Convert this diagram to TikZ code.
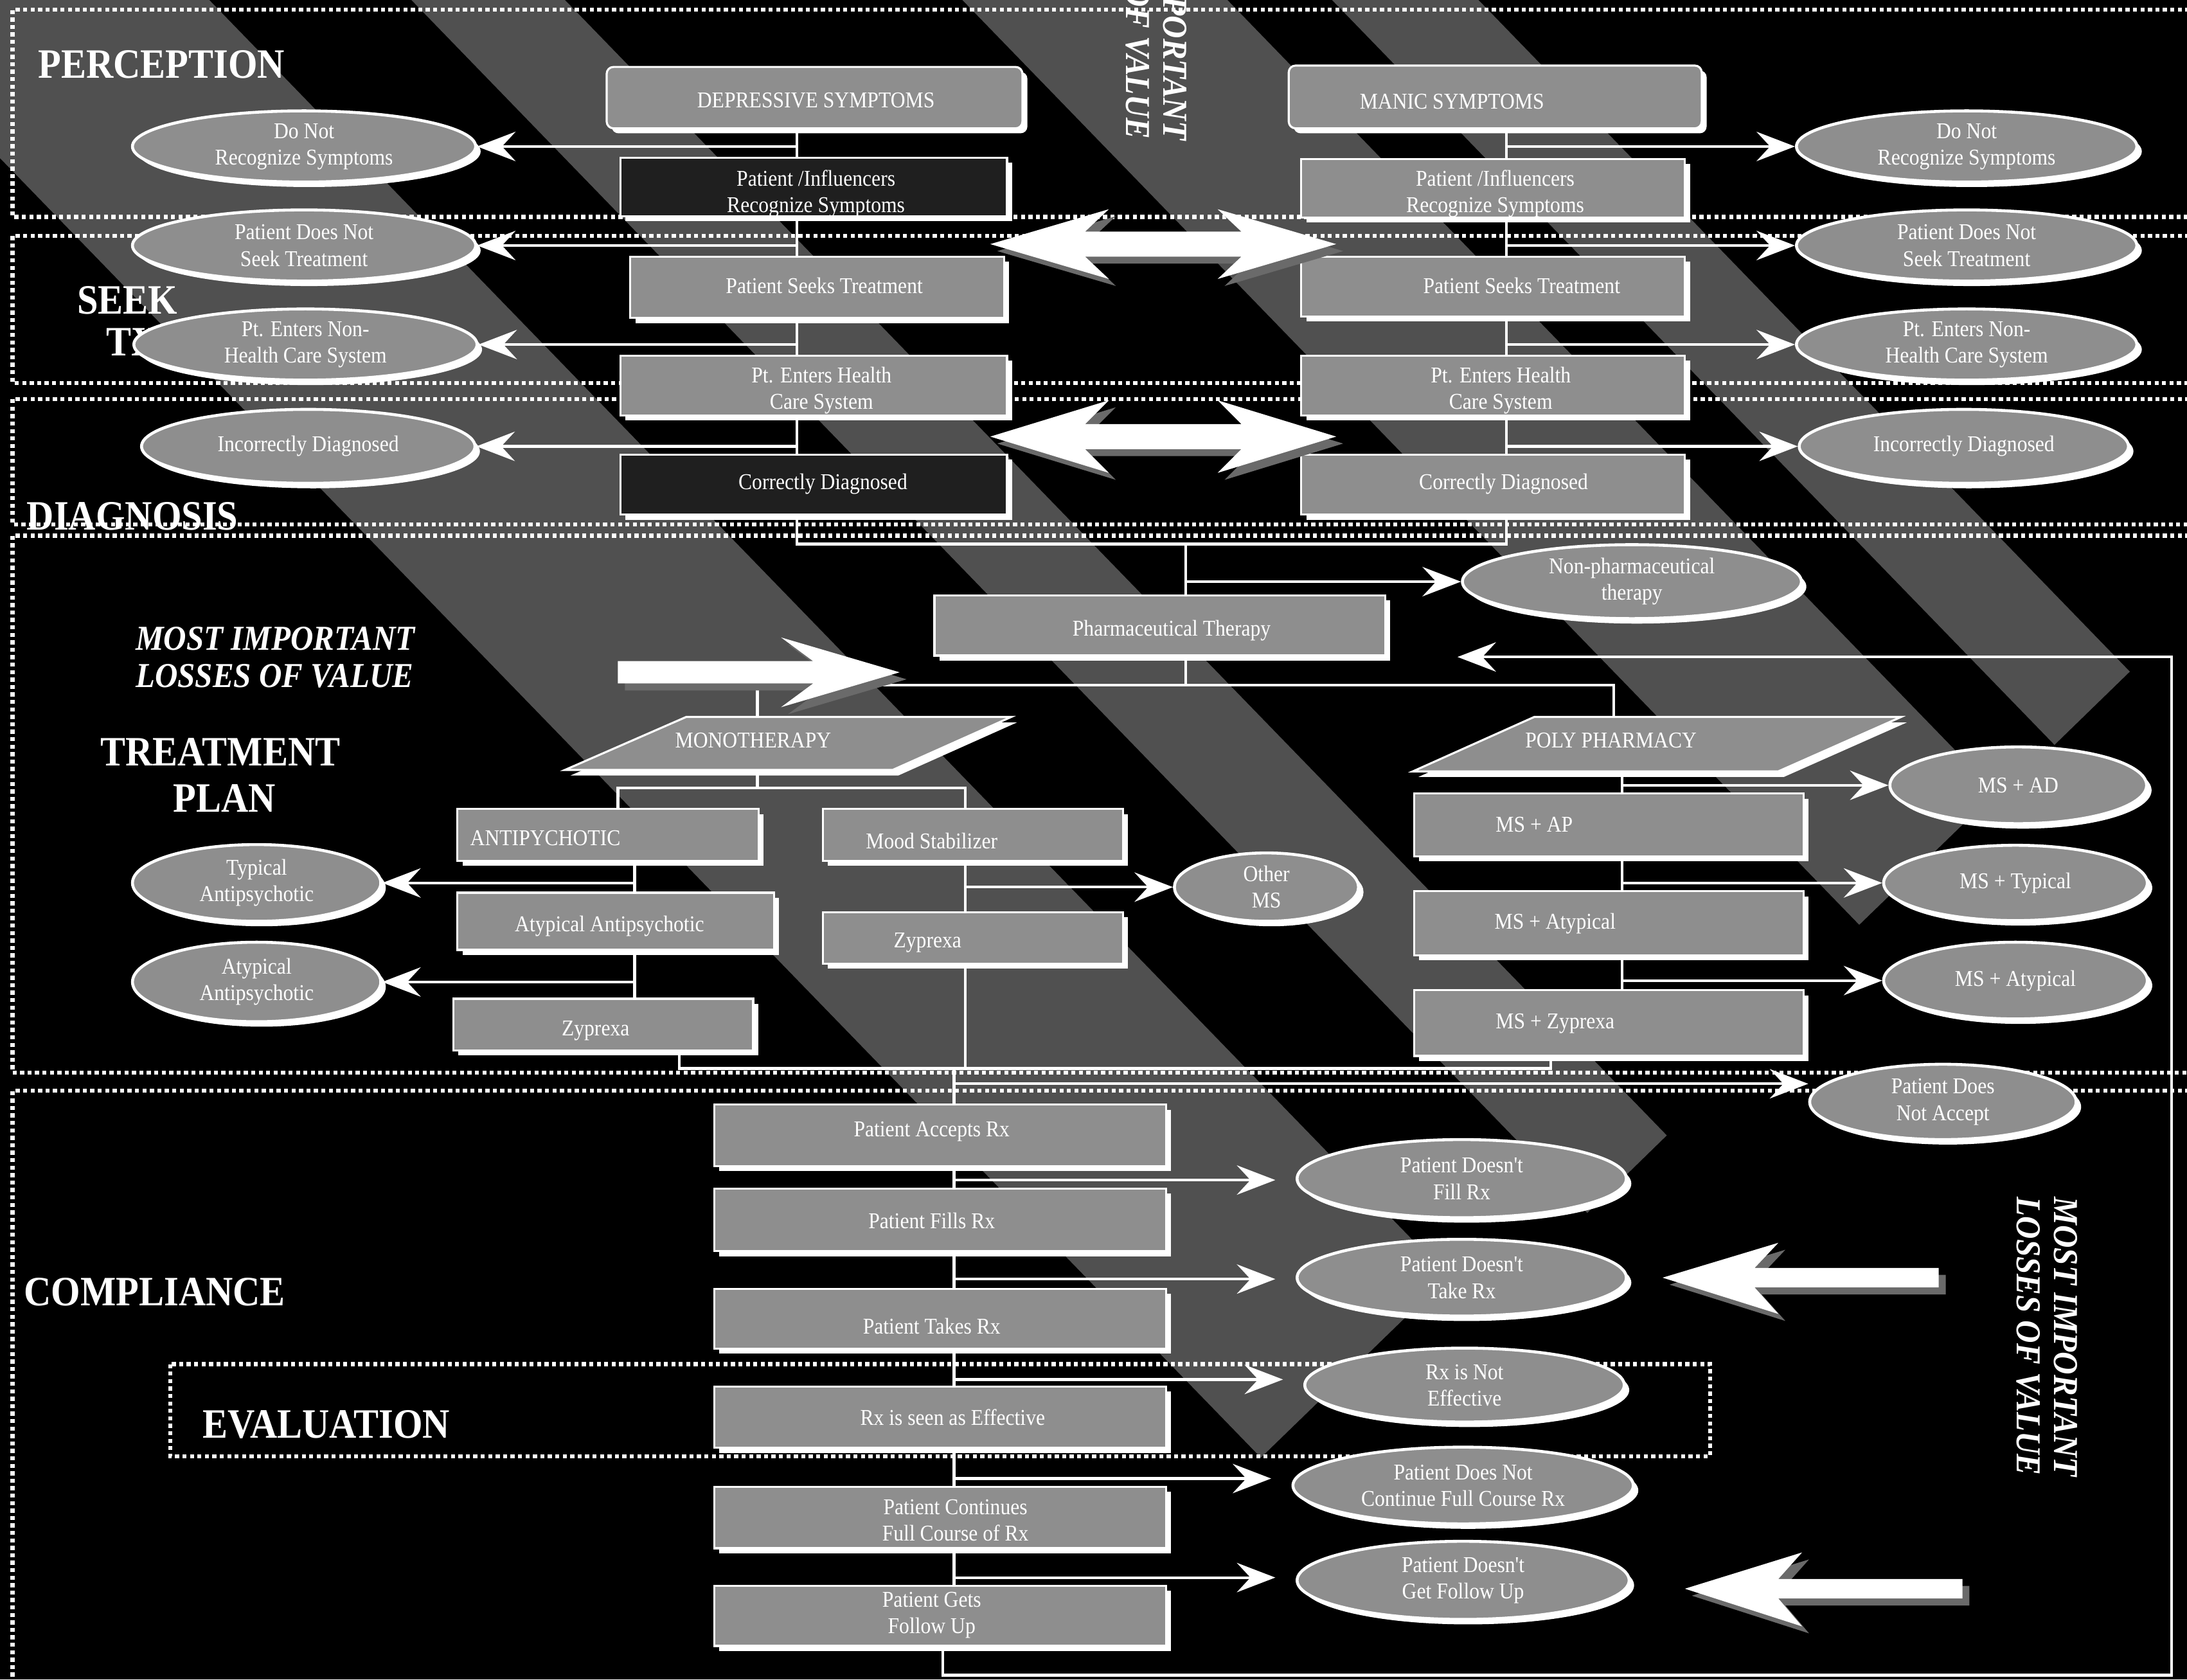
\documentclass[tikz,border=0pt]{standalone}
\usepackage{fontspec}
\newfontfamily\cf[FakeStretch=0.9]{Liberation Serif}
\newfontfamily\cfi[FakeStretch=0.9]{Liberation Serif}
\usetikzlibrary{shapes.geometric,shadows,arrows.meta}
\definecolor{boxg}{HTML}{8E8E8E}
\definecolor{bandg}{HTML}{505050}
\definecolor{shadg}{HTML}{6A6A6A}
\newcommand\btf{\cf\fontsize{10}{11.7}\selectfont}
\newcommand\BX[6]{\node[#1, minimum width={(#5-#3)*0.6175pt}, minimum height={(#6-#4)*0.6175pt}] (#2) at ({(#3+#5)/2},{(#4+#6)/2}) {};}
\newcommand\EL[6]{\node[ell, minimum width={#4*0.6175pt}, minimum height={#5*0.6175pt}] (#1) at (#2,#3) {#6};}
\tikzset{
  wsh/.style={drop shadow={shadow xshift=2.2pt, shadow yshift=-2.2pt, fill=white, opacity=1}},
  gbox/.style={rectangle, fill=boxg, draw=white, line width=0.9pt, inner sep=0pt, wsh},
  dbox/.style={gbox, fill=black!88},
  rbox/.style={gbox, rounded corners=3pt},
  ell/.style={ellipse, fill=boxg, draw=white, line width=1.3pt, inner sep=0pt, wsh, text=white, font=\btf, align=center},
  btxt/.style={text=white, font=\btf, align=center, inner sep=0pt},
  conn/.style={draw=white, line width=1.2pt},
  arr/.style={conn, -{Stealth[length=17pt, width=13pt, inset=6pt]}},
  secline/.style={draw=white, line width=1.8pt, dash pattern=on 1.8pt off 1.5pt},
  seclab/.style={text=white, font=\cf\bfseries\fontsize{18.5}{22}\selectfont, inner sep=0pt},
  lossl/.style={text=white, font=\cfi\bfseries\itshape\fontsize{15.5}{16.5}\selectfont, align=left, inner sep=0pt},
  band/.style={fill=bandg},
  bigarr/.style={fill=white},
  bigsh/.style={fill=shadg},
  para/.style={fill=boxg, draw=white, line width=0.9pt},
}
\begin{document}
\begin{tikzpicture}[x={(0.021703cm,0cm)}, y={(0cm,-0.021703cm)}]
\path[use as bounding box] (0,0) rectangle (1568,1204);
\fill[black] (0,0) rectangle (1568,1204);
\begin{scope}
\clip (0,0) rectangle (1568,1204);
% ---------- diagonal bands
\fill[band] (-158.5,-50) -- (101.5,-50) -- (1038,915) -- (904,1045) -- cycle;
\fill[band] (246.5,-50) -- (356.5,-50) -- (1195,814) -- (1138,869.6) -- cycle;
\fill[band] (641.5,-50) -- (831.5,-50) -- (1431,568) -- (1333,663) -- cycle;
\fill[band] (906.5,-50) -- (1011.5,-50) -- (1527,481.5) -- (1473,534) -- cycle;
% ---------- section frames
\draw[secline] (1575,7) -- (9,7) -- (9,155.5) -- (1575,155.5);
\draw[secline] (1575,169) -- (9,169) -- (9,274.5) -- (1575,274.5);
\draw[secline] (1575,286) -- (9,286) -- (9,376) -- (1575,376);
\draw[secline] (1575,384) -- (9,384) -- (9,769) -- (1575,769);
\draw[secline] (1575,782) -- (9,782) -- (9,1215);
\draw[secline] (122,978) rectangle (1226,1044);
% ---------- labels
\node[seclab, anchor=base west] (lPer) at (27,56) {PERCEPTION};
\node[seclab, anchor=base west] (lSeek) at (55,225) {SEEK};
\node[seclab, anchor=base west] (lTx) at (76,255) {TX};
\node[seclab, anchor=base west] (lDia) at (19,380) {DIAGNOSIS};
\node[seclab, anchor=base] (lTre) at (158,549) {TREATMENT};
\node[seclab, anchor=base] (lPlan) at (161,582) {PLAN};
\node[seclab, anchor=base west] (lCom) at (17,936) {COMPLIANCE};
\node[seclab, anchor=base west] (lEva) at (145,1031) {EVALUATION};
\node[lossl, anchor=north west] (lossL) at (97,449) {MOST IMPORTANT\\LOSSES OF VALUE};
\node[lossl, rotate=-90, anchor=north west] (lossT) at (851,-100) {MOST IMPORTANT\\LOSSES OF VALUE};
\node[lossl, rotate=-90, anchor=north west] (lossR) at (1490,858) {MOST IMPORTANT\\LOSSES OF VALUE};
% ---------- boxes
\BX{rbox}{dep}{435}{48}{733}{92}
\BX{dbox}{pirL}{445}{113}{722}{155}
\BX{gbox}{pstL}{452}{184}{720}{228}
\BX{gbox}{pehL}{445}{255}{722}{298}
\BX{dbox}{cdL}{445}{326}{722}{369}
\BX{rbox}{manic}{924}{47}{1220}{92}
\BX{gbox}{pirR}{933}{114}{1208}{156}
\BX{gbox}{pstR}{933}{184}{1208}{227}
\BX{gbox}{pehR}{933}{255}{1208}{298}
\BX{gbox}{cdR}{933}{326}{1208}{369}
\BX{gbox}{pharma}{670}{427}{993}{470}
\BX{gbox}{antip}{328}{580}{544}{617}
\BX{gbox}{atyp}{328}{640}{555}{681}
\BX{gbox}{zypL}{325}{716}{540}{753}
\BX{gbox}{mood}{590}{580}{805}{617}
\BX{gbox}{zypM}{590}{654}{805}{691}
\BX{gbox}{msap}{1014}{569}{1293}{614}
\BX{gbox}{msatyp}{1014}{639}{1293}{685}
\BX{gbox}{mszyp}{1014}{710}{1293}{757}
\BX{gbox}{acc}{512}{792}{836}{836}
\BX{gbox}{fills}{512}{852}{836}{897}
\BX{gbox}{takes}{512}{924}{836}{967}
\BX{gbox}{eff}{512}{994}{836}{1038}
\BX{gbox}{cont}{512}{1066}{836}{1110}
\BX{gbox}{fol}{512}{1137}{836}{1180}
% parallelograms
\fill[white] (409,556) -- (496,518) -- (729,518) -- (644,556) -- cycle;
\path[para] (405,552) -- (492,514) -- (725,514) -- (640,552) -- cycle;
\fill[white] (1017,557) -- (1104,518) -- (1367,518) -- (1279,557) -- cycle;
\path[para] (1013,553) -- (1100,514) -- (1363,514) -- (1275,553) -- cycle;
\coordinate (monoTop) at (543,514);
\coordinate (monoBot) at (543,552);
\coordinate (polyTop) at (1157,514);
\coordinate (polyBot) at (1163,553);
% ---------- box texts
\node[btxt] (depT) at (585,72) {DEPRESSIVE SYMPTOMS};
\node[btxt] (pirLT) at (585,139) {Patient /Influencers\\Recognize Symptoms};
\node[btxt] (pstLT) at (591,205) {Patient Seeks Treatment};
\node[btxt] (pehLT) at (589,280) {Pt. Enters Health\\Care System};
\node[btxt] (cdLT) at (590,347) {Correctly Diagnosed};
\node[btxt] (manicT) at (1041,73) {MANIC SYMPTOMS};
\node[btxt] (pirRT) at (1072,139) {Patient /Influencers\\Recognize Symptoms};
\node[btxt] (pstRT) at (1091,205) {Patient Seeks Treatment};
\node[btxt] (pehRT) at (1076,280) {Pt. Enters Health\\Care System};
\node[btxt] (cdRT) at (1078,347) {Correctly Diagnosed};
\node[btxt] (pharmaT) at (840,452) {Pharmaceutical Therapy};
\node[btxt] (mono) at (540,531) {MONOTHERAPY};
\node[btxt] (poly) at (1155,531) {POLY PHARMACY};
\node[btxt] (antipT) at (391,601) {ANTIPYCHOTIC};
\node[btxt] (atypT) at (437,664) {Atypical Antipsychotic};
\node[btxt] (zypLT) at (427,739) {Zyprexa};
\node[btxt] (moodT) at (668,603) {Mood Stabilizer};
\node[btxt] (zypMT) at (665,676) {Zyprexa};
\node[btxt] (msapT) at (1100,591) {MS + AP};
\node[btxt] (msatypT) at (1115,662) {MS + Atypical};
\node[btxt] (mszypT) at (1115,734) {MS + Zyprexa};
\node[btxt] (accT) at (668,811) {Patient Accepts Rx};
\node[btxt] (fillsT) at (668,875) {Patient Fills Rx};
\node[btxt] (takesT) at (668,951) {Patient Takes Rx};
\node[btxt] (effT) at (683,1016) {Rx is seen as Effective};
\node[btxt] (contT) at (685,1090) {Patient Continues\\Full Course of Rx};
\node[btxt] (folT) at (668,1158) {Patient Gets\\Follow Up};
% ---------- ellipses
\EL{dnrL}{218}{105}{246}{51}{Do Not\\Recognize Symptoms}
\EL{pdnsL}{218}{176}{246}{51}{Patient Does Not\\Seek Treatment}
\EL{penL}{219}{247}{246}{51}{Pt. Enters Non-\\Health Care System}
\EL{incL}{221}{320}{239}{53}{Incorrectly Diagnosed}
\EL{dnrR}{1410}{105}{244}{51}{Do Not\\Recognize Symptoms}
\EL{pdnsR}{1410}{176}{244}{51}{Patient Does Not\\Seek Treatment}
\EL{penR}{1410}{247}{244}{51}{Pt. Enters Non-\\Health Care System}
\EL{incR}{1408}{320}{236}{53}{Incorrectly Diagnosed}
\EL{nonph}{1170}{417}{243}{53}{Non-pharmaceutical\\therapy}
\EL{typL}{184}{633}{178}{55}{Typical\\Antipsychotic}
\EL{atyL}{184}{704}{178}{57}{Atypical\\Antipsychotic}
\EL{othMS}{908}{636}{132}{49}{Other\\MS}
\EL{msad}{1447}{563}{184}{55}{MS + AD}
\EL{mstyp}{1445}{633}{189}{54}{MS + Typical}
\EL{msaty}{1445}{703}{189}{55}{MS + Atypical}
\EL{nacc}{1393}{790}{191}{54}{Patient Does\\Not Accept}
\EL{nfill}{1048}{845}{236}{56}{Patient Doesn't\\Fill Rx}
\EL{ntake}{1048}{916}{236}{55}{Patient Doesn't\\Take Rx}
\EL{neff}{1050}{993}{229}{53}{Rx is Not\\Effective}
\EL{ncont}{1049}{1065}{244}{55}{Patient Does Not\\Continue Full Course Rx}
\EL{nfol}{1049}{1133}{238}{56}{Patient Doesn't\\Get Follow Up}
% ---------- spine coordinates
\coordinate (sL) at (571.5,0);
\coordinate (sR) at (1080,0);
\coordinate (sC) at (850,0);
\coordinate (sAP) at (455,0);
\coordinate (sMS) at (692,0);
\coordinate (sPP) at (1163,0);
\coordinate (sCo) at (684,0);
\coordinate (bA) at (443,0);
\coordinate (bZ) at (487,0);
\coordinate (bP) at (1112,0);
\coordinate (jC) at (850,390);
\coordinate (jT) at (850,491);
\coordinate (jM) at (543,565);
\coordinate (jB) at (692,766);
\coordinate (tNA) at (684,777);
\coordinate (fb1) at (676,1201);
\coordinate (fb2) at (1557,1201);
\coordinate (fbT) at (1045,471);
% ---------- connectors: depressive column
\draw[conn] (dep.south -| sL) -- (pirL.north -| sL);
\draw[conn] (pirL.south -| sL) -- (pstL.north -| sL);
\draw[conn] (pstL.south -| sL) -- (pehL.north -| sL);
\draw[conn] (pehL.south -| sL) -- (cdL.north -| sL);
\draw[arr] (sL |- dnrL) -- (dnrL);
\draw[arr] (sL |- pdnsL) -- (pdnsL);
\draw[arr] (sL |- penL) -- (penL);
\draw[arr] (sL |- incL) -- (incL);
% manic column
\draw[conn] (manic.south -| sR) -- (pirR.north -| sR);
\draw[conn] (pirR.south -| sR) -- (pstR.north -| sR);
\draw[conn] (pstR.south -| sR) -- (pehR.north -| sR);
\draw[conn] (pehR.south -| sR) -- (cdR.north -| sR);
\draw[arr] (sR |- dnrR) -- (dnrR);
\draw[arr] (sR |- pdnsR) -- (pdnsR);
\draw[arr] (sR |- penR) -- (penR);
\draw[arr] (sR |- incR) -- (incR);
% merge to therapy
\draw[conn] (cdL.south -| sL) |- (jC) -| (cdR.south -| sR);
\draw[conn] (jC) -- (pharma.north -| jC);
\draw[arr] (sC |- nonph) -- (nonph);
\draw[conn] (pharma.south -| jT) -- (jT);
\draw[conn] (monoTop) |- (jT) -| (polyTop);
% monotherapy branches
\draw[conn] (monoBot) -- (jM);
\draw[conn] (antip.north -| bA) |- (jM) -| (mood.north -| sMS);
\draw[conn] (antip.south -| sAP) -- (atyp.north -| sAP);
\draw[conn] (atyp.south -| sAP) -- (zypL.north -| sAP);
\draw[arr] (sAP |- typL) -- (typL);
\draw[arr] (sAP |- atyL) -- (atyL);
\draw[conn] (mood.south -| sMS) -- (zypM.north -| sMS);
\draw[arr] (sMS |- othMS) -- (othMS);
% poly pharmacy branches
\draw[conn] (polyBot) -- (msap.north -| sPP);
\draw[conn] (msap.south -| sPP) -- (msatyp.north -| sPP);
\draw[conn] (msatyp.south -| sPP) -- (mszyp.north -| sPP);
\draw[arr] (sPP |- msad) -- (msad);
\draw[arr] (sPP |- mstyp) -- (mstyp);
\draw[arr] (sPP |- msaty) -- (msaty);
% join to compliance
\draw[conn] (zypM.south -| sMS) -- (jB);
\draw[conn] (zypL.south -| bZ) |- (jB);
\draw[conn] (mszyp.south -| bP) |- (jB);
\draw[conn] (jB) -| (acc.north -| sCo);
\draw[arr] (tNA) -- (tNA -| nacc.west);
% compliance column
\draw[conn] (acc.south -| sCo) -- (fills.north -| sCo);
\draw[conn] (fills.south -| sCo) -- (takes.north -| sCo);
\draw[conn] (takes.south -| sCo) -- (eff.north -| sCo);
\draw[conn] (eff.south -| sCo) -- (cont.north -| sCo);
\draw[conn] (cont.south -| sCo) -- (fol.north -| sCo);
\coordinate (c1) at (684,846);
\coordinate (c2) at (684,917);
\coordinate (c3) at (684,989);
\coordinate (c4) at (684,1060);
\coordinate (c5) at (684,1131);
\draw[arr, shorten >=9pt] (c1) -- (c1 -| nfill.west);
\draw[arr, shorten >=9pt] (c2) -- (c2 -| ntake.west);
\draw[arr, shorten >=9pt] (c3) -- (c3 -| neff.west);
\draw[arr, shorten >=9pt] (c4) -- (c4 -| ncont.west);
\draw[arr, shorten >=9pt] (c5) -- (c5 -| nfol.west);
% feedback loop
\draw[arr] (fol.south -| fb1) |- (fb2) |- (fbT);
% ---------- big arrows
\fill[bigsh] (715,180) -- (800,155) -- (783,171) -- (895,171) -- (878,155) -- (963,180) -- (878,205) -- (895,189) -- (783,189) -- (800,205) -- cycle;
\fill[bigarr] (710,175) -- (795,150) -- (778,166) -- (890,166) -- (873,150) -- (958,175) -- (873,200) -- (890,184) -- (778,184) -- (795,200) -- cycle;
\fill[bigsh] (715,318) -- (800,292) -- (783,309) -- (895,309) -- (878,292) -- (963,318) -- (878,344) -- (895,327) -- (783,327) -- (800,344) -- cycle;
\fill[bigarr] (710,313) -- (795,287) -- (778,304) -- (890,304) -- (873,287) -- (958,313) -- (873,339) -- (890,322) -- (778,322) -- (795,339) -- cycle;
\fill[bigsh] (448,479) -- (588,479) -- (565,462) -- (650,487) -- (565,512) -- (588,495) -- (448,495) -- cycle;
\fill[bigarr] (443,474) -- (583,474) -- (560,457) -- (645,482) -- (560,507) -- (583,490) -- (443,490) -- cycle;
\fill[bigsh] (1197,921) -- (1280,896) -- (1263,914) -- (1395,914) -- (1395,928) -- (1263,928) -- (1280,947) -- cycle;
\fill[bigarr] (1192,916) -- (1275,891) -- (1258,909) -- (1390,909) -- (1390,923) -- (1258,923) -- (1275,942) -- cycle;
\fill[bigsh] (1213,1144) -- (1297,1118) -- (1280,1137) -- (1412,1137) -- (1412,1151) -- (1280,1151) -- (1297,1171) -- cycle;
\fill[bigarr] (1208,1139) -- (1292,1113) -- (1275,1132) -- (1407,1132) -- (1407,1146) -- (1275,1146) -- (1292,1166) -- cycle;
\end{scope}
\end{tikzpicture}
\end{document}
